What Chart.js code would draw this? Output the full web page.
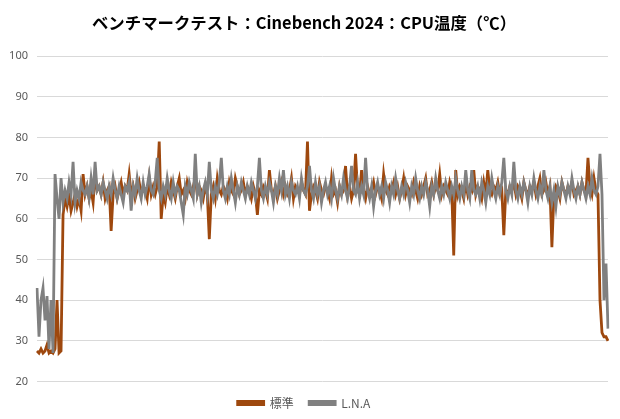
<!DOCTYPE html>
<html>
<head>
<meta charset="utf-8">
<script src="https://cdn.jsdelivr.net/npm/chart.js@4/dist/chart.umd.min.js"></script>
<style>
  html, body { margin: 0; padding: 0; background: #fff; }
  #wrap { width: 620px; height: 419px; }
</style>
</head>
<body>
<div id="wrap"><canvas id="tempChart"></canvas></div>
<script>
// CPU temperature samples (°C)
const standard = [
  27.5, 27, 28, 27, 27.5, 29, 27, 27.5, 27, 28,
  40, 27, 27.5, 61, 65, 63, 66, 62, 64, 66,
  63, 65, 62, 71, 66, 68, 65, 67, 64, 71,
  67, 68, 66, 69, 65, 67, 68, 57, 66, 68,
  65, 67, 69, 66, 68, 67, 71, 66, 68, 65,
  67, 69, 66, 68, 67, 65, 70, 66, 68, 66,
  68, 79, 60, 66, 64, 68, 66, 69, 67, 65,
  68, 70, 66, 67, 65, 69, 67, 66, 68, 70,
  66, 68, 67, 65, 68, 66, 55, 66, 68, 65,
  70, 67, 66, 68, 67, 65, 69, 67, 66, 70,
  68, 66, 67, 69, 66, 68, 67, 65, 68, 66,
  61, 67, 66, 68, 67, 65, 72, 67, 66, 68,
  65, 67, 69, 66, 68, 66, 67, 70, 65, 68,
  67, 66, 69, 67, 66, 79, 62, 66, 68, 67,
  65, 69, 67, 66, 68, 67, 65, 70, 66, 67,
  64, 68, 66, 67, 73, 66, 68, 65, 67, 76,
  67, 66, 72, 67, 65, 68, 66, 67, 69, 66,
  68, 67, 65, 71, 67, 66, 68, 67, 69, 66,
  68, 65, 67, 70, 66, 68, 67, 66, 69, 67,
  65, 68, 66, 68, 70, 66, 67, 69, 66, 68,
  67, 71, 66, 68, 67, 66, 69, 67, 51, 72,
  66, 68, 67, 65, 69, 66, 68, 67, 72, 66,
  68, 67, 65, 69, 66, 72, 67, 66, 68, 67,
  69, 66, 67, 56, 67, 66, 68, 67, 69, 66,
  68, 67, 65, 69, 67, 66, 68, 67, 69, 66,
  68, 70, 66, 67, 69, 66, 68, 53, 66, 68,
  67, 65, 69, 67, 66, 68, 67, 69, 66, 67,
  68, 66, 69, 67, 66, 75, 68, 66, 70, 67,
  66, 40, 32, 31, 31, 30
];

const lna = [
  43, 31, 40, 43, 35, 41, 28, 40, 27, 71,
  65, 60, 70, 64, 67, 65, 69, 66, 74, 64,
  67, 65, 69, 67, 66, 68, 65, 70, 66, 74,
  67, 68, 66, 69, 67, 65, 68, 66, 70, 67,
  65, 68, 66, 64, 68, 67, 69, 62, 68, 66,
  70, 67, 65, 69, 66, 68, 71, 67, 66, 69,
  75, 67, 65, 68, 66, 70, 67, 65, 69, 66,
  68, 67, 64, 61, 68, 66, 69, 67, 65, 76,
  66, 68, 64, 67, 69, 66, 74, 67, 65, 68,
  66, 69, 75, 67, 65, 68, 66, 70, 67, 64,
  68, 66, 69, 67, 65, 68, 66, 69, 67, 65,
  68, 75, 67, 65, 68, 66, 69, 67, 64, 68,
  66, 70, 67, 72, 66, 68, 65, 69, 67, 66,
  68, 65, 70, 67, 66, 68, 73, 67, 65, 69,
  66, 68, 64, 67, 69, 66, 68, 65, 70, 67,
  65, 68, 66, 70, 67, 65, 68, 73, 67, 66,
  69, 65, 68, 66, 75, 67, 65, 68, 63, 67,
  69, 66, 68, 65, 69, 67, 64, 68, 66, 70,
  67, 65, 68, 66, 69, 67, 64, 68, 66, 70,
  67, 65, 68, 66, 69, 67, 63, 68, 66, 70,
  67, 65, 68, 66, 69, 67, 65, 68, 66, 70,
  67, 65, 68, 66, 72, 67, 65, 72, 67, 66,
  68, 65, 69, 67, 64, 68, 66, 70, 67, 65,
  68, 66, 69, 75, 67, 65, 68, 66, 74, 67,
  65, 68, 66, 69, 67, 64, 68, 66, 70, 67,
  65, 68, 66, 72, 67, 65, 68, 64, 67, 63,
  68, 66, 69, 67, 65, 68, 66, 70, 67, 65,
  68, 66, 69, 67, 65, 68, 66, 70, 67, 66,
  68, 76, 66, 40, 49, 33
];

const seriesNames = ['標準', 'L.N.A'];
const yTicks = [20, 30, 40, 50, 60, 70, 80, 90, 100];
const chartTitle = 'ベンチマークテスト：Cinebench 2024：CPU温度（℃）';

// x axis has no labels in the original, just sample numbers
const labels = standard.map((_, i) => i + 1);

const brown = '#9E480E';
const gray = '#808080';

const ctx = document.getElementById('tempChart').getContext('2d');

new Chart(ctx, {
    type: 'line',
    data: {
        labels: labels,
        datasets: [
            {
                label: seriesNames[0],
                data: standard,
                borderColor: brown,
                backgroundColor: brown,
                borderWidth: 2.8,
                pointRadius: 0,
                tension: 0,
                order: 2
            },
            {
                label: seriesNames[1],
                data: lna,
                borderColor: gray,
                backgroundColor: gray,
                borderWidth: 2.8,
                pointRadius: 0,
                tension: 0,
                order: 1   // gray drawn on top, like the original
            }
        ]
    },
    options: {
        responsive: true,
        maintainAspectRatio: false,
        animation: false,
        layout: { padding: { left: 0, right: 12, top: 0, bottom: 0 } },
        plugins: {
            title: {
                display: true,
                text: chartTitle,
                color: '#000',
                font: { family: '"Noto Sans CJK JP", sans-serif', size: 16.4, weight: 'bold' },
                padding: { top: 13, bottom: 23.5 }
            },
            legend: {
                position: 'bottom',
                labels: {
                    color: '#595959',
                    font: { family: '"Noto Sans CJK JP", sans-serif', size: 12 },
                    boxWidth: 26,
                    boxHeight: 3,
                    padding: 15.5,
                    sort: (a, b) => a.datasetIndex - b.datasetIndex
                }
            },
            tooltip: { enabled: false }
        },
        scales: {
            x: {
                display: false,
                offset: false
            },
            y: {
                min: 20,
                max: 100,
                afterBuildTicks: (scale) => {
                    scale.ticks = yTicks.map(v => ({ value: v }));
                },
                afterFit: (scale) => { scale.width = 37; },
                ticks: {
                    color: '#595959',
                    font: { family: '"Noto Sans", sans-serif', size: 11 },
                    padding: 9
                },
                grid: { color: '#d9d9d9', drawTicks: false },
                border: { display: false }
            }
        }
    }
});
</script>
</body>
</html>
